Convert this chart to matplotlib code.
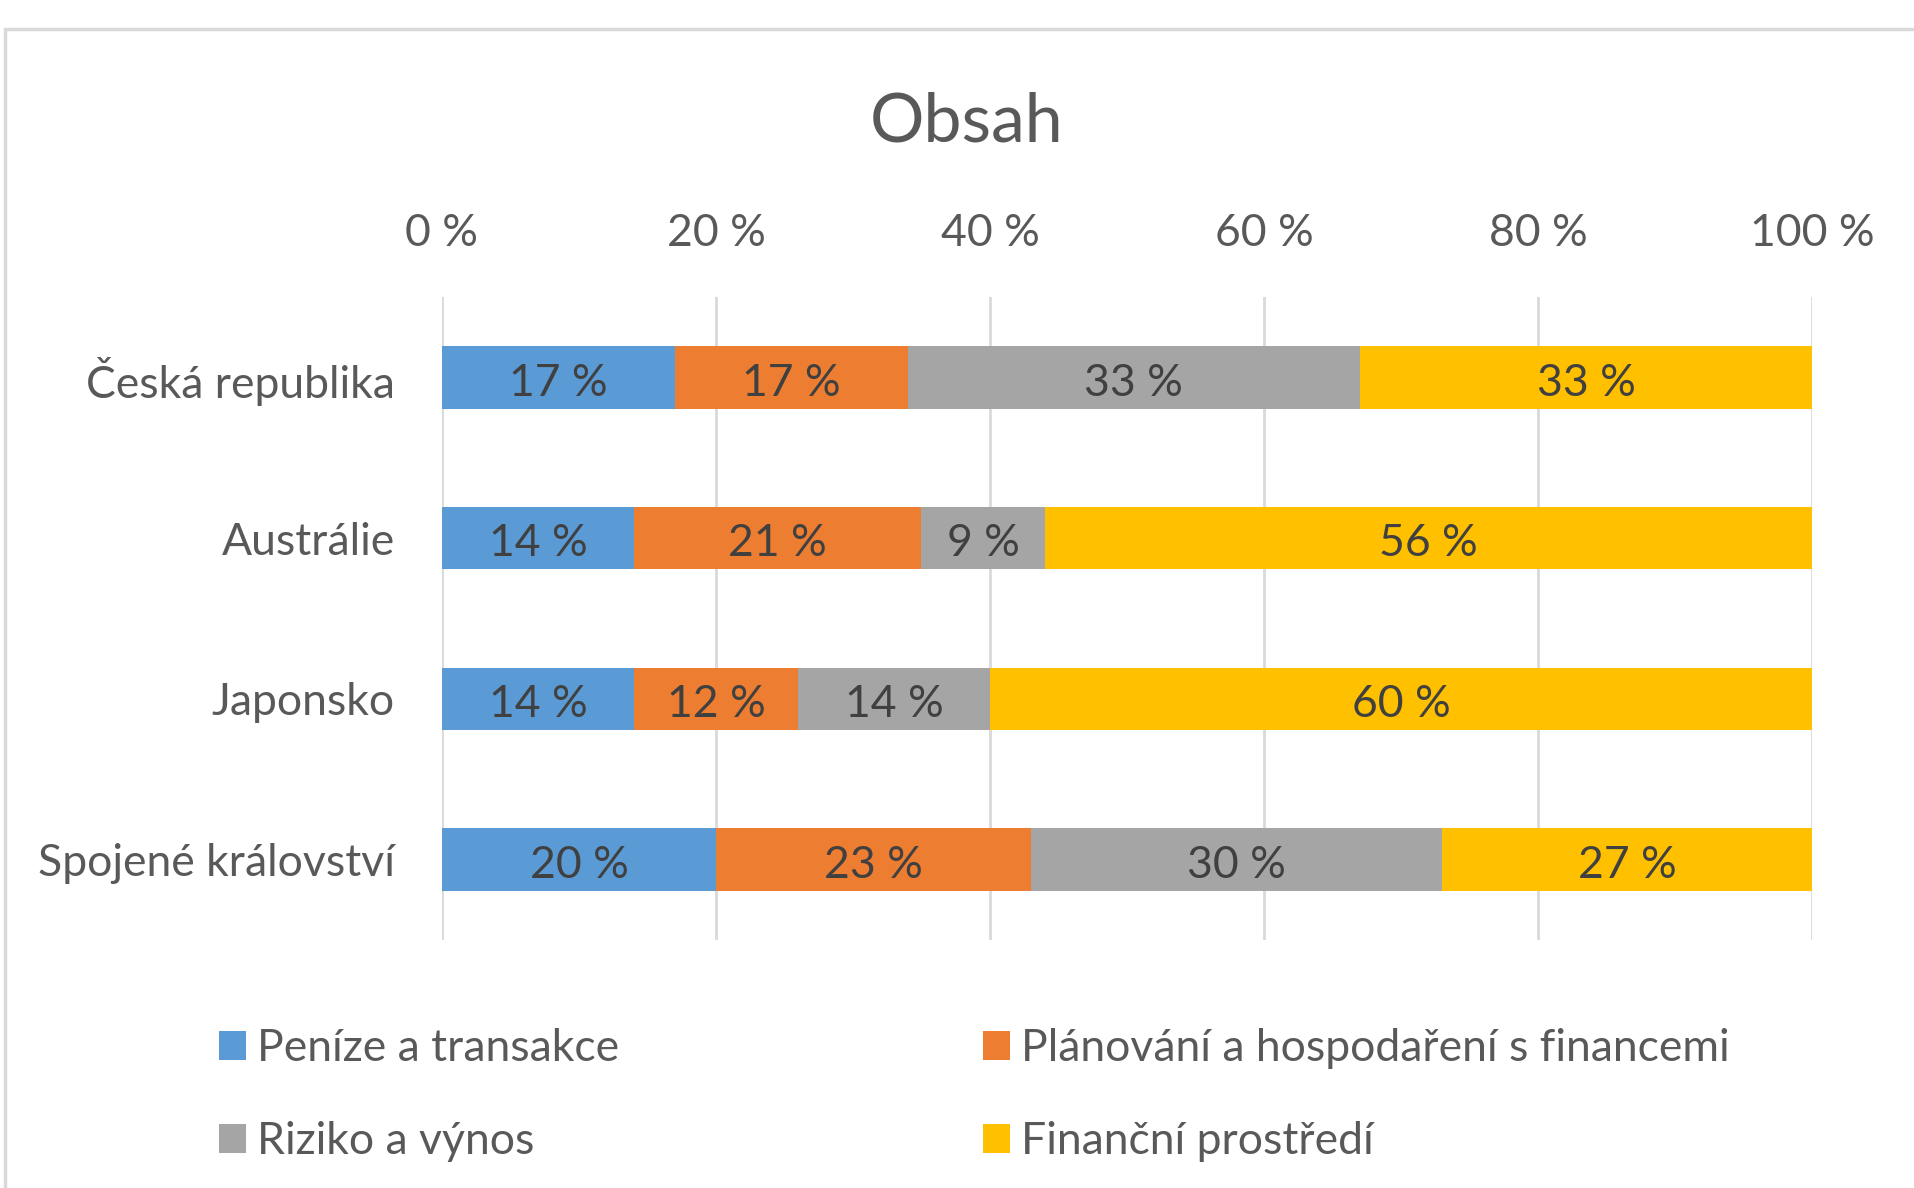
import matplotlib.pyplot as plt
import numpy as np
from matplotlib.patches import Rectangle

plt.rcParams['font.family'] = ['Lato', 'DejaVu Sans']

countries = ["Česká republika", "Austrálie", "Japonsko", "Spojené království"]
series = ["Peníze a transakce", "Plánování a hospodaření s financemi",
          "Riziko a výnos", "Finanční prostředí"]
colors = ["#5b9bd5", "#ed7d31", "#a5a5a5", "#ffc000"]

penize = [17, 14, 14, 20]
planovani = [17, 21, 12, 23]
riziko = [33, 9, 14, 30]
prostredi = [33, 56, 60, 27]
values = [penize, planovani, riziko, prostredi]

x_ticks = [0, 20, 40, 60, 80, 100]
tick_labels = ["0 %", "20 %", "40 %", "60 %", "80 %", "100 %"]

W, H = 1915, 1188
fig = plt.figure(figsize=(W / 100, H / 100), dpi=100)

# light frame of the chart area
fig.patches.append(Rectangle((5 / W, -0.1), 1.2, 1 - 29 / H + 0.1,
                             transform=fig.transFigure, fill=False,
                             edgecolor="#d9d9d9", linewidth=2.5))

ax = fig.add_axes([442 / W, 1 - 940 / H, 1370 / W, 643 / H])

fs = 32
y = np.arange(len(countries))
left = np.zeros(len(countries))
bars = []
for vals, name, col in zip(values, series, colors):
    b = ax.barh(y, vals, left=left, height=0.39, color=col, label=name, zorder=3)
    bars.append(b)
    for yi, l, v in zip(y, left, vals):
        ax.text(l + v / 2, yi + 0.035, "%.0f %%" % v, ha="center", va="center",
                fontsize=fs, color="#404040", zorder=4)
    left = left + np.array(vals)

ax.set_xlim(0, 100)
ax.set_ylim(3.5, -0.5)
ax.set_yticks(y)
ax.set_yticklabels(countries, fontsize=fs, color="#595959")
ax.set_xticks(x_ticks)
ax.set_xticklabels(tick_labels, fontsize=fs, color="#595959")
ax.xaxis.tick_top()
ax.tick_params(axis="x", length=0, pad=31)
ax.tick_params(axis="y", length=0, pad=34)
ax.grid(axis="x", color="#d9d9d9", linewidth=2, zorder=0)
for s in ax.spines.values():
    s.set_visible(False)

fig.text(0.505, 1 - 123 / H, "Obsah", ha="center", va="center",
         fontsize=49, color="#595959")

order = [0, 2, 1, 3]
fig.legend([bars[i] for i in order], [series[i] for i in order],
           ncol=2, loc="upper left", bbox_to_anchor=(219 / W, 1 - 1028 / H),
           frameon=False, fontsize=fs, labelcolor="#595959",
           borderpad=0, borderaxespad=0,
           handlelength=0.6, handleheight=0.63, handletextpad=0.25,
           columnspacing=8.2, labelspacing=1.18)

fig.savefig("out.png", dpi=100)
